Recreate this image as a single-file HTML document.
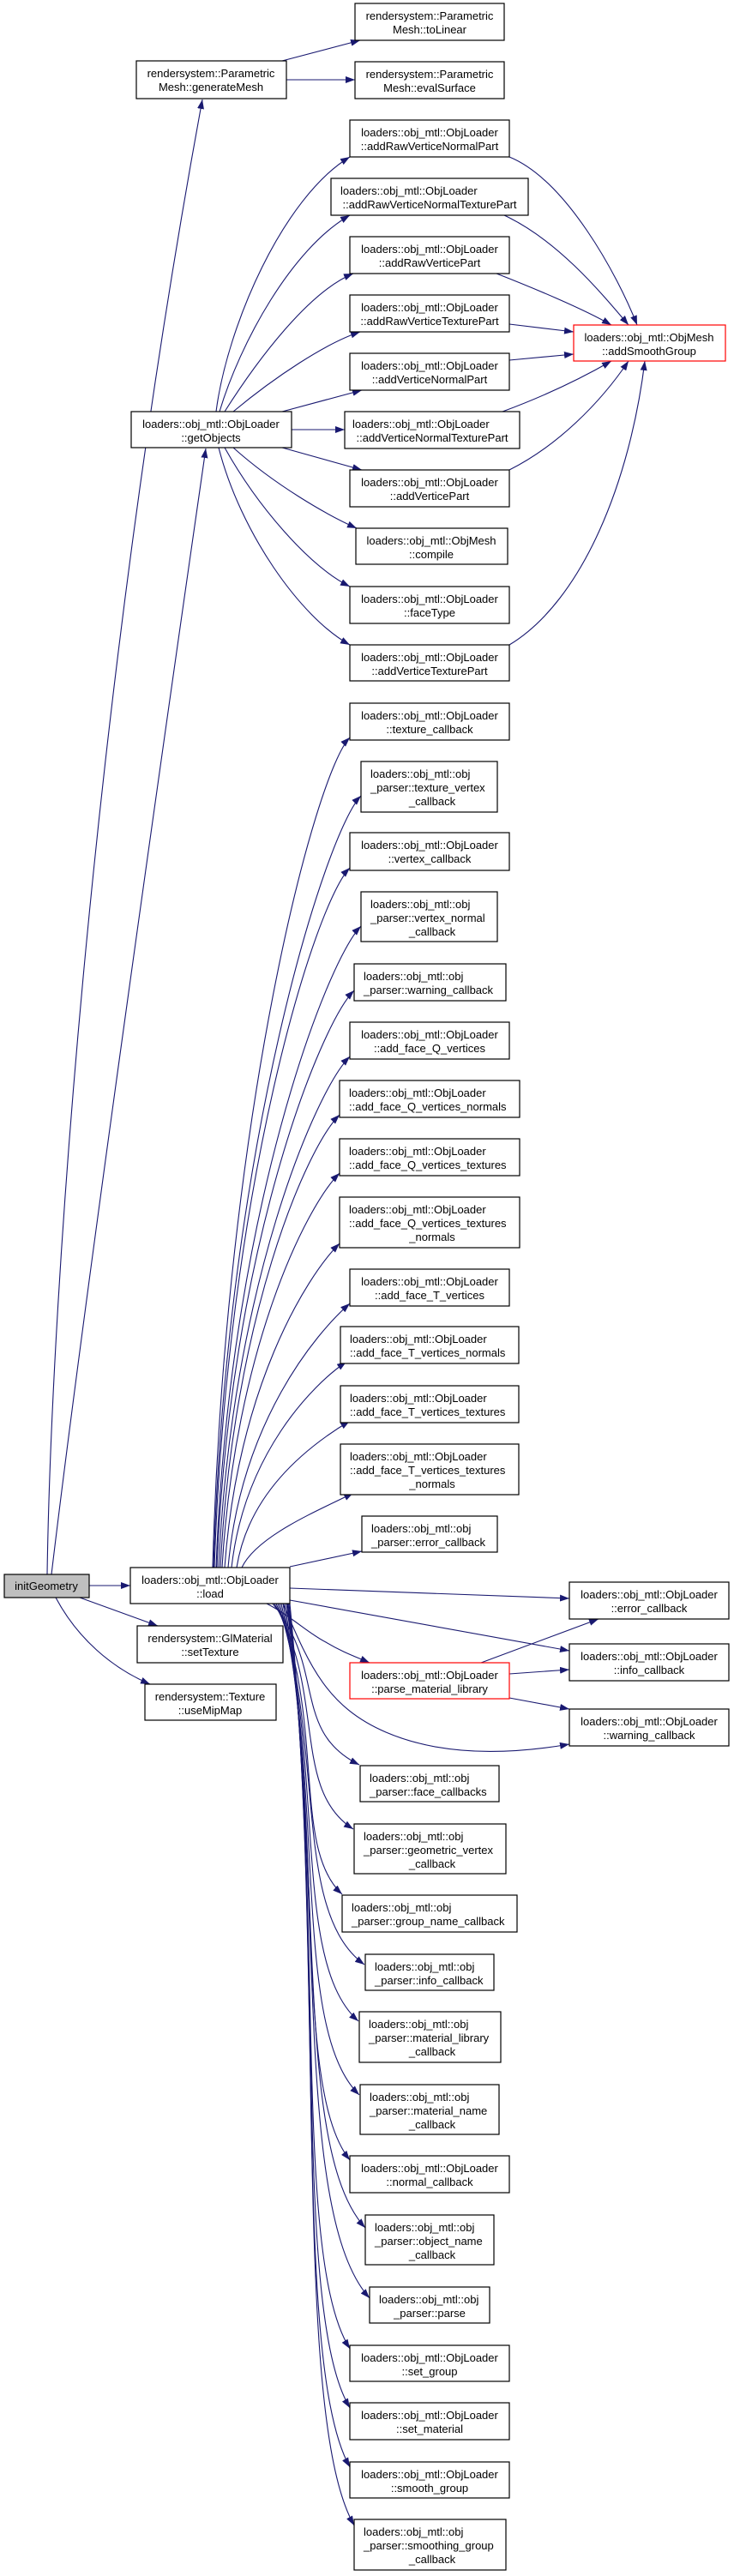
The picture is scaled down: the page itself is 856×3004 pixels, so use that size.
<!DOCTYPE html>
<html><head><meta charset="utf-8"><style>
html,body{margin:0;padding:0;background:#fff;}
svg{display:block;}
text{font-family:"Liberation Sans",Arial,sans-serif;font-size:13px;fill:#000;}
.b{fill:#fff;stroke:#000;stroke-width:1.2;}
.r{fill:#fff;stroke:#ff0000;stroke-width:1.2;}
.g{fill:#bfbfbf;stroke:#000;stroke-width:1.2;}
.e{fill:none;stroke:#191970;stroke-width:1.1;marker-end:url(#a);}
</style></head><body>
<svg width="856" height="3004" viewBox="0 0 856 3004" xmlns="http://www.w3.org/2000/svg">
<defs><marker id="a" markerWidth="11" markerHeight="8" refX="11" refY="4" orient="auto" markerUnits="userSpaceOnUse"><path d="M0,0 L11,4 L0,8 z" fill="#191970"/></marker></defs>

<path class="e" d="M55,1836 C60,1500 110,800 236,116"/>
<path class="e" d="M60,1836 C100,1500 200,800 240,523"/>
<path class="e" d="M104,1849 L152,1849"/>
<path class="e" d="M93,1863 L184,1896"/>
<path class="e" d="M65,1863 C90,1910 130,1945 175,1964"/>
<path class="e" d="M329,71 L420,47"/>
<path class="e" d="M334,93 L414,93"/>

<path class="e" d="M252,480 C265,380 330,230 408,183"/>
<path class="e" d="M256,480 C280,400 340,290 408,251"/>
<path class="e" d="M262,480 C300,420 360,340 412,319"/>
<path class="e" d="M272,480 C320,440 380,400 420,387"/>
<path class="e" d="M329,480 L422,455"/>
<path class="e" d="M340,501 L402,501"/>
<path class="e" d="M329,522 L422,548"/>
<path class="e" d="M272,522 C320,565 380,600 416,616"/>
<path class="e" d="M262,522 C300,590 360,660 408,684"/>
<path class="e" d="M255,522 C280,620 350,720 408,752"/>

<path class="e" d="M594,183 C660,210 720,320 743,379"/>
<path class="e" d="M588,251 C650,280 700,340 733,379"/>
<path class="e" d="M579,319 C620,335 680,360 713,379"/>
<path class="e" d="M594,378 L669,387"/>
<path class="e" d="M594,420 L669,413"/>
<path class="e" d="M586,480 C640,460 680,440 713,421"/>
<path class="e" d="M594,548 C650,520 700,470 733,421"/>
<path class="e" d="M594,752 C680,700 735,560 752,421"/>

<path class="e" d="M248,1828 C263,1296 368,900 408,860"/>
<path class="e" d="M249,1828 C264,1333 381,968 421,928"/>
<path class="e" d="M250,1828 C265,1379 368,1052 408,1012"/>
<path class="e" d="M252,1828 C267,1417 381,1120 421,1080"/>
<path class="e" d="M253,1828 C268,1458 373,1195 413,1155"/>
<path class="e" d="M255,1828 C270,1500 368,1272 408,1232"/>
<path class="e" d="M257,1828 C272,1538 356,1340 396,1300"/>
<path class="e" d="M259,1828 C274,1575 356,1408 396,1368"/>
<path class="e" d="M262,1828 C277,1620 356,1490 396,1450"/>
<path class="e" d="M266,1828 C281,1659 368,1555 408,1520"/>
<path class="e" d="M270,1828 C285,1696 364,1615 404,1588"/>
<path class="e" d="M276,1828 C291,1734 370,1680 408,1657"/>
<path class="e" d="M282,1828 C300,1790 375,1760 412,1741"/>
<path class="e" d="M338,1827 L422,1809"/>

<path class="e" d="M338,1852 L664,1864"/>
<path class="e" d="M338,1866 L664,1925"/>
<path class="e" d="M311,1870 C340,1885 360,1905 380,1915 C400,1927 415,1932 431,1939"/>
<path class="e" d="M330,1870 C360,1940 380,1990 450,2020 C520,2050 600,2045 664,2034"/>
<path class="e" d="M561,1939 L698,1888"/>
<path class="e" d="M594,1952 L664,1947"/>
<path class="e" d="M594,1980 L664,1993"/>

<path class="e" d="M318,1870 C380,1945 340,2019 419,2058"/>
<path class="e" d="M320,1870 C380,1975 340,2087 412,2133"/>
<path class="e" d="M322,1870 C380,2006 340,2155 399,2209"/>
<path class="e" d="M324,1870 C380,2038 340,2229 425,2291"/>
<path class="e" d="M326,1870 C380,2065 340,2288 418,2357"/>
<path class="e" d="M328,1870 C380,2099 340,2366 419,2443"/>
<path class="e" d="M330,1870 C380,2130 340,2434 408,2519"/>
<path class="e" d="M332,1870 C380,2161 340,2505 426,2598"/>
<path class="e" d="M334,1870 C380,2194 340,2579 431,2680"/>
<path class="e" d="M335,1870 C380,2218 340,2632 408,2739"/>
<path class="e" d="M336,1870 C380,2245 340,2694 408,2808"/>
<path class="e" d="M337,1870 C380,2273 340,2756 408,2877"/>
<path class="e" d="M338,1870 C380,2300 340,2817 413,2945"/>

<rect class="b" x="414" y="4" width="174" height="43"/><text x="501" y="23" text-anchor="middle">rendersystem::Parametric</text><text x="501" y="39" text-anchor="middle">Mesh::toLinear</text>
<rect class="b" x="414" y="72" width="174" height="43"/><text x="501" y="91" text-anchor="middle">rendersystem::Parametric</text><text x="501" y="107" text-anchor="middle">Mesh::evalSurface</text>
<rect class="b" x="159" y="71" width="175" height="44"/><text x="246" y="90" text-anchor="middle">rendersystem::Parametric</text><text x="246" y="106" text-anchor="middle">Mesh::generateMesh</text>

<rect class="b" x="408" y="140" width="186" height="43"/><text x="501" y="159" text-anchor="middle">loaders::obj_mtl::ObjLoader</text><text x="501" y="175" text-anchor="middle">::addRawVerticeNormalPart</text>
<rect class="b" x="386" y="208" width="230" height="43"/><text x="397" y="227">loaders::obj_mtl::ObjLoader</text><text x="501" y="243" text-anchor="middle">::addRawVerticeNormalTexturePart</text>
<rect class="b" x="408" y="276" width="186" height="43"/><text x="501" y="295" text-anchor="middle">loaders::obj_mtl::ObjLoader</text><text x="501" y="311" text-anchor="middle">::addRawVerticePart</text>
<rect class="b" x="408" y="344" width="186" height="43"/><text x="501" y="363" text-anchor="middle">loaders::obj_mtl::ObjLoader</text><text x="501" y="379" text-anchor="middle">::addRawVerticeTexturePart</text>
<rect class="b" x="408" y="412" width="186" height="43"/><text x="501" y="431" text-anchor="middle">loaders::obj_mtl::ObjLoader</text><text x="501" y="447" text-anchor="middle">::addVerticeNormalPart</text>
<rect class="b" x="402" y="480" width="204" height="43"/><text x="411" y="499">loaders::obj_mtl::ObjLoader</text><text x="504" y="515" text-anchor="middle">::addVerticeNormalTexturePart</text>
<rect class="b" x="408" y="548" width="186" height="43"/><text x="501" y="567" text-anchor="middle">loaders::obj_mtl::ObjLoader</text><text x="501" y="583" text-anchor="middle">::addVerticePart</text>
<rect class="b" x="415" y="616" width="177" height="42"/><text x="503" y="635" text-anchor="middle">loaders::obj_mtl::ObjMesh</text><text x="503" y="651" text-anchor="middle">::compile</text>
<rect class="b" x="408" y="684" width="186" height="43"/><text x="501" y="703" text-anchor="middle">loaders::obj_mtl::ObjLoader</text><text x="501" y="719" text-anchor="middle">::faceType</text>
<rect class="b" x="408" y="752" width="186" height="42"/><text x="501" y="771" text-anchor="middle">loaders::obj_mtl::ObjLoader</text><text x="501" y="787" text-anchor="middle">::addVerticeTexturePart</text>
<rect class="r" x="669" y="379" width="177" height="42"/><text x="757" y="398" text-anchor="middle">loaders::obj_mtl::ObjMesh</text><text x="757" y="414" text-anchor="middle">::addSmoothGroup</text>
<rect class="b" x="153" y="480" width="187" height="42"/><text x="246" y="499" text-anchor="middle">loaders::obj_mtl::ObjLoader</text><text x="246" y="515" text-anchor="middle">::getObjects</text>

<rect class="b" x="408" y="820" width="186" height="43"/><text x="501" y="839" text-anchor="middle">loaders::obj_mtl::ObjLoader</text><text x="501" y="855" text-anchor="middle">::texture_callback</text>
<rect class="b" x="421" y="888" width="159" height="59"/><text x="432" y="907">loaders::obj_mtl::obj</text><text x="432" y="923">_parser::texture_vertex</text><text x="504" y="939" text-anchor="middle">_callback</text>
<rect class="b" x="408" y="971" width="186" height="44"/><text x="501" y="990" text-anchor="middle">loaders::obj_mtl::ObjLoader</text><text x="501" y="1006" text-anchor="middle">::vertex_callback</text>
<rect class="b" x="421" y="1040" width="159" height="58"/><text x="432" y="1059">loaders::obj_mtl::obj</text><text x="432" y="1075">_parser::vertex_normal</text><text x="504" y="1091" text-anchor="middle">_callback</text>
<rect class="b" x="413" y="1124" width="177" height="43"/><text x="424" y="1143">loaders::obj_mtl::obj</text><text x="424" y="1159">_parser::warning_callback</text>
<rect class="b" x="408" y="1192" width="186" height="43"/><text x="501" y="1211" text-anchor="middle">loaders::obj_mtl::ObjLoader</text><text x="501" y="1227" text-anchor="middle">::add_face_Q_vertices</text>
<rect class="b" x="396" y="1260" width="210" height="43"/><text x="407" y="1279">loaders::obj_mtl::ObjLoader</text><text x="407" y="1295">::add_face_Q_vertices_normals</text>
<rect class="b" x="396" y="1328" width="210" height="43"/><text x="407" y="1347">loaders::obj_mtl::ObjLoader</text><text x="407" y="1363">::add_face_Q_vertices_textures</text>
<rect class="b" x="396" y="1396" width="210" height="59"/><text x="407" y="1415">loaders::obj_mtl::ObjLoader</text><text x="407" y="1431">::add_face_Q_vertices_textures</text><text x="504" y="1447" text-anchor="middle">_normals</text>
<rect class="b" x="408" y="1480" width="186" height="43"/><text x="501" y="1499" text-anchor="middle">loaders::obj_mtl::ObjLoader</text><text x="501" y="1515" text-anchor="middle">::add_face_T_vertices</text>
<rect class="b" x="397" y="1547" width="208" height="43"/><text x="408" y="1566">loaders::obj_mtl::ObjLoader</text><text x="408" y="1582">::add_face_T_vertices_normals</text>
<rect class="b" x="397" y="1616" width="208" height="43"/><text x="408" y="1635">loaders::obj_mtl::ObjLoader</text><text x="408" y="1651">::add_face_T_vertices_textures</text>
<rect class="b" x="397" y="1684" width="208" height="59"/><text x="408" y="1703">loaders::obj_mtl::ObjLoader</text><text x="408" y="1719">::add_face_T_vertices_textures</text><text x="504" y="1735" text-anchor="middle">_normals</text>
<rect class="b" x="422" y="1768" width="158" height="42"/><text x="433" y="1787">loaders::obj_mtl::obj</text><text x="433" y="1803">_parser::error_callback</text>

<rect class="g" x="5" y="1836" width="99" height="27"/><text x="54" y="1854" text-anchor="middle">initGeometry</text>
<rect class="b" x="152" y="1828" width="186" height="42"/><text x="245" y="1847" text-anchor="middle">loaders::obj_mtl::ObjLoader</text><text x="245" y="1863" text-anchor="middle">::load</text>
<rect class="b" x="160" y="1896" width="170" height="43"/><text x="245" y="1915" text-anchor="middle">rendersystem::GlMaterial</text><text x="245" y="1931" text-anchor="middle">::setTexture</text>
<rect class="b" x="169" y="1964" width="153" height="42"/><text x="245" y="1983" text-anchor="middle">rendersystem::Texture</text><text x="245" y="1999" text-anchor="middle">::useMipMap</text>

<rect class="b" x="664" y="1845" width="186" height="43"/><text x="757" y="1864" text-anchor="middle">loaders::obj_mtl::ObjLoader</text><text x="757" y="1880" text-anchor="middle">::error_callback</text>
<rect class="b" x="664" y="1917" width="186" height="43"/><text x="757" y="1936" text-anchor="middle">loaders::obj_mtl::ObjLoader</text><text x="757" y="1952" text-anchor="middle">::info_callback</text>
<rect class="r" x="408" y="1939" width="186" height="42"/><text x="501" y="1958" text-anchor="middle">loaders::obj_mtl::ObjLoader</text><text x="501" y="1974" text-anchor="middle">::parse_material_library</text>
<rect class="b" x="664" y="1993" width="186" height="43"/><text x="757" y="2012" text-anchor="middle">loaders::obj_mtl::ObjLoader</text><text x="757" y="2028" text-anchor="middle">::warning_callback</text>

<rect class="b" x="420" y="2059" width="162" height="42"/><text x="431" y="2078">loaders::obj_mtl::obj</text><text x="431" y="2094">_parser::face_callbacks</text>
<rect class="b" x="413" y="2127" width="177" height="58"/><text x="424" y="2146">loaders::obj_mtl::obj</text><text x="424" y="2162">_parser::geometric_vertex</text><text x="504" y="2178" text-anchor="middle">_callback</text>
<rect class="b" x="399" y="2210" width="204" height="43"/><text x="410" y="2229">loaders::obj_mtl::obj</text><text x="410" y="2245">_parser::group_name_callback</text>
<rect class="b" x="426" y="2279" width="150" height="42"/><text x="437" y="2298">loaders::obj_mtl::obj</text><text x="437" y="2314">_parser::info_callback</text>
<rect class="b" x="419" y="2346" width="165" height="59"/><text x="430" y="2365">loaders::obj_mtl::obj</text><text x="430" y="2381">_parser::material_library</text><text x="504" y="2397" text-anchor="middle">_callback</text>
<rect class="b" x="420" y="2431" width="162" height="58"/><text x="431" y="2450">loaders::obj_mtl::obj</text><text x="431" y="2466">_parser::material_name</text><text x="504" y="2482" text-anchor="middle">_callback</text>
<rect class="b" x="408" y="2514" width="186" height="43"/><text x="501" y="2533" text-anchor="middle">loaders::obj_mtl::ObjLoader</text><text x="501" y="2549" text-anchor="middle">::normal_callback</text>
<rect class="b" x="426" y="2583" width="150" height="58"/><text x="437" y="2602">loaders::obj_mtl::obj</text><text x="437" y="2618">_parser::object_name</text><text x="504" y="2634" text-anchor="middle">_callback</text>
<rect class="b" x="431" y="2667" width="140" height="42"/><text x="442" y="2686">loaders::obj_mtl::obj</text><text x="501" y="2702" text-anchor="middle">_parser::parse</text>
<rect class="b" x="408" y="2735" width="186" height="42"/><text x="501" y="2754" text-anchor="middle">loaders::obj_mtl::ObjLoader</text><text x="501" y="2770" text-anchor="middle">::set_group</text>
<rect class="b" x="408" y="2802" width="186" height="43"/><text x="501" y="2821" text-anchor="middle">loaders::obj_mtl::ObjLoader</text><text x="501" y="2837" text-anchor="middle">::set_material</text>
<rect class="b" x="408" y="2871" width="186" height="42"/><text x="501" y="2890" text-anchor="middle">loaders::obj_mtl::ObjLoader</text><text x="501" y="2906" text-anchor="middle">::smooth_group</text>
<rect class="b" x="413" y="2938" width="177" height="59"/><text x="424" y="2957">loaders::obj_mtl::obj</text><text x="424" y="2973">_parser::smoothing_group</text><text x="504" y="2989" text-anchor="middle">_callback</text>
</svg>
</body></html>
